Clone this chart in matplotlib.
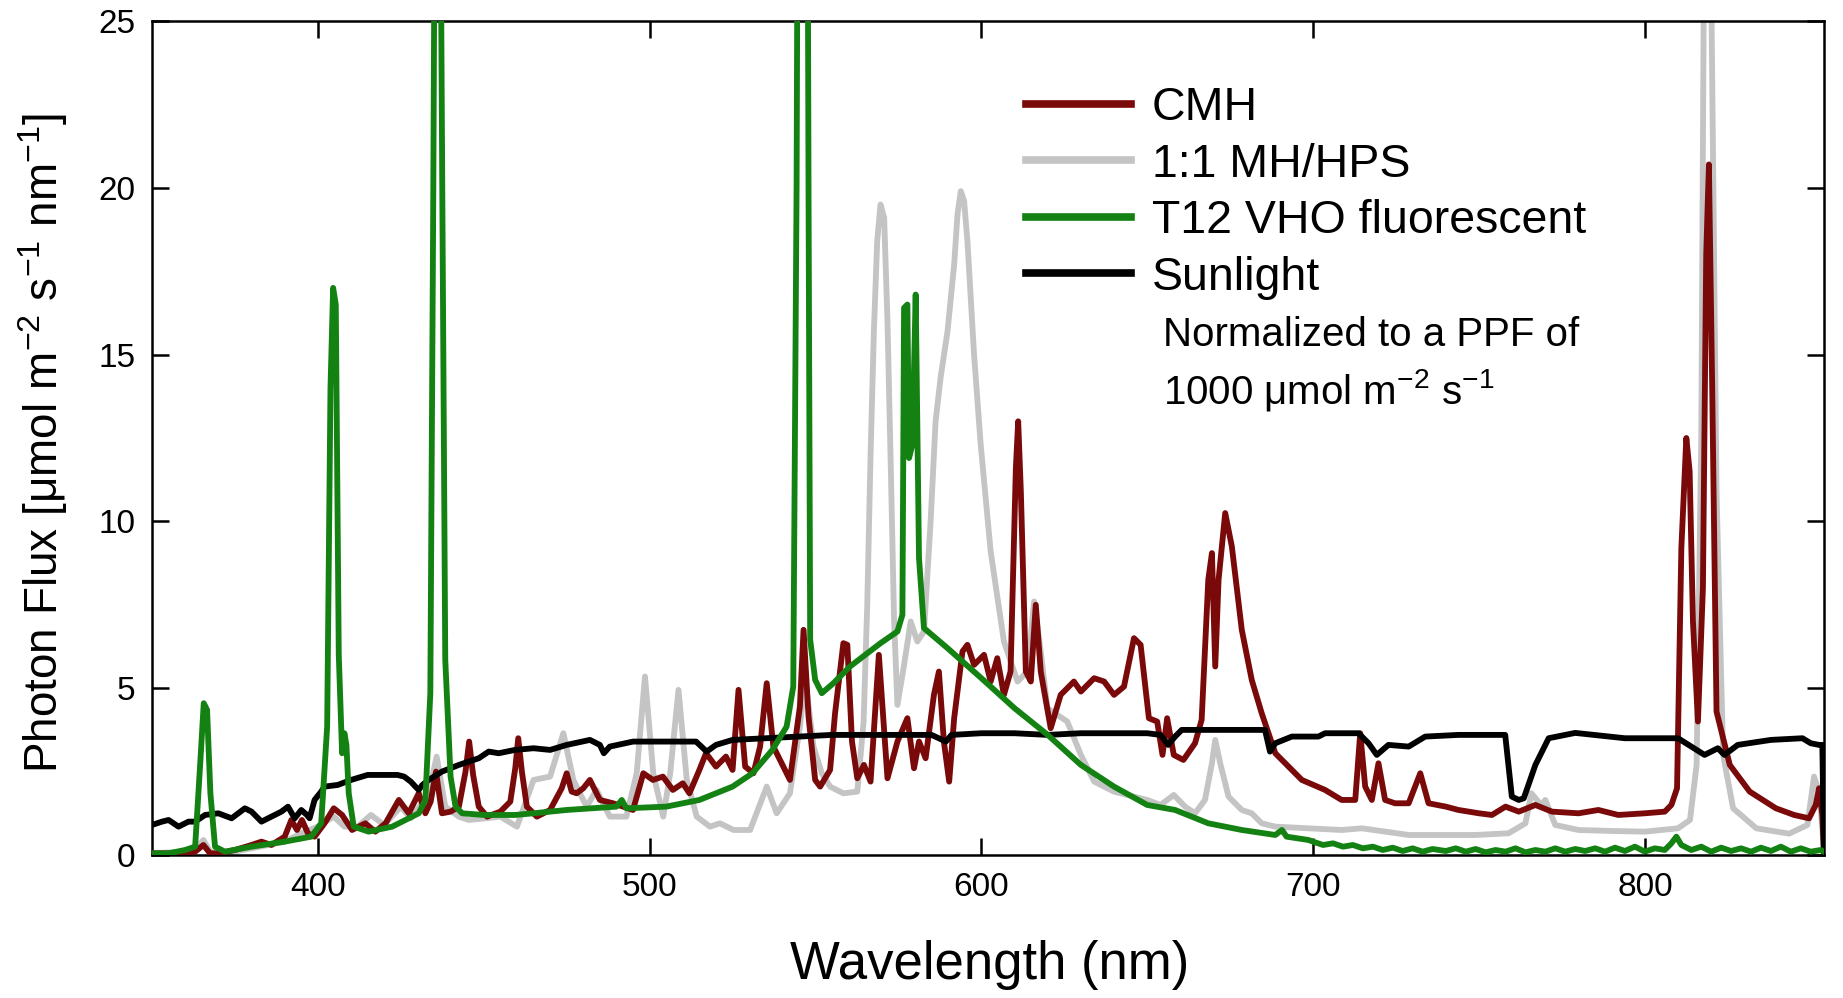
import matplotlib
matplotlib.use("Agg")
import matplotlib.pyplot as plt
from matplotlib import font_manager
from matplotlib.lines import Line2D

names = {f.name for f in font_manager.fontManager.ttflist}
BASE = 'Liberation Sans' if 'Liberation Sans' in names else 'DejaVu Sans'
plt.rcParams['font.family'] = [BASE, 'DejaVu Sans']
plt.rcParams['mathtext.fontset'] = 'custom'
plt.rcParams['mathtext.rm'] = BASE
plt.rcParams['mathtext.it'] = BASE + ':italic'
plt.rcParams['mathtext.default'] = 'regular'

# ---------------- data ----------------
sun_nm = [350, 353, 355, 358, 361, 363, 366, 370, 374, 378, 380, 383, 385, 387, 389, 391, 393,
          395, 396.7, 397.5, 399, 401, 402, 406, 410, 415, 420, 424, 426, 428, 429.4, 430.4,
          431.5, 433.4, 437.4, 442.5, 448.5, 451.5, 454.5, 459.4, 465, 470, 475, 482, 485,
          486.2, 488, 495, 505, 514, 517.2, 520, 525, 535, 545, 555, 565, 575, 585, 589.3,
          591, 600, 610, 620, 630, 640, 650, 654, 656.3, 658.4, 660.4, 670, 680, 685.5, 687,
          688.6, 693.6, 701.6, 703.6, 713.7, 716.7, 719.2, 722.7, 728.8, 733.8, 743.8, 757.9,
          759.9, 762, 763.5, 767, 771, 779, 794, 810, 814, 818, 822, 824, 828, 838, 847.5,
          850, 852.5, 853.5, 854]
sun_flux = [0.9, 1.0, 1.05, 0.85, 1.0, 1.0, 1.2, 1.25, 1.1, 1.4, 1.3, 1.0, 1.1, 1.2, 1.3, 1.45, 1.1,
            1.35, 1.2, 1.1, 1.65, 1.9, 2.05, 2.1, 2.25, 2.4, 2.4, 2.4, 2.35, 2.2, 2.05, 1.95,
            2.1, 2.25, 2.5, 2.7, 2.9, 3.1, 3.05, 3.15, 3.2, 3.15, 3.3, 3.45, 3.3,
            3.05, 3.25, 3.4, 3.4, 3.4, 3.1, 3.3, 3.45, 3.5, 3.55, 3.6, 3.6, 3.6, 3.6, 3.4,
            3.6, 3.65, 3.65, 3.6, 3.65, 3.65, 3.65, 3.6, 3.3, 3.55, 3.75, 3.75, 3.75, 3.75, 3.1,
            3.35, 3.55, 3.55, 3.65, 3.65, 3.35, 3.0, 3.3, 3.25, 3.55, 3.6, 3.6,
            1.75, 1.65, 1.7, 2.7, 3.5, 3.66, 3.5, 3.5, 3.25, 3.0, 3.2, 3.0, 3.3, 3.45, 3.5,
            3.35, 3.3, 3.3, 0.0]

cmh_nm = [350, 355, 360, 363, 365.5, 367.5, 370, 375, 380, 383, 386, 390, 392, 393.7, 395.2, 397,
          399, 402, 404.8, 407.3, 410.3, 414.3, 417.3, 420.4, 424.4, 427.4, 430.4, 432.4, 434,
          435.6, 437.4, 440, 442.5, 444.5, 445.6, 446.8, 448.5, 451, 455, 458, 459.5, 460.4,
          461.5, 463, 466, 470, 473.5, 475, 476.5, 478, 480, 482, 485, 489, 495, 498.1, 501,
          504, 507, 510, 512, 515, 517, 520, 523, 525, 526.8, 528.8, 531.3, 533.3, 535.3,
          537.3, 540.3, 542.3, 545.3, 546.4, 547.9, 549.9, 551.4, 554.4, 555.9, 558.4, 559.6,
          561, 562.6, 564.6, 566.6, 569.1, 571.7, 574.7, 577.7, 579.7, 581.2, 583.2, 585.7,
          587.2, 588.7, 590.3, 591.8, 594.3, 595.8, 597.8, 600.8, 602.8, 604.8, 606.8, 608.8,
          610.4, 611.1, 611.9, 613.4, 614.9, 616.4, 617.9, 620.9, 623.9, 627.9, 630, 634, 637,
          640, 643, 646, 648, 650.5, 653, 654.6, 656, 658, 660.9, 664.4, 666.4, 668.4, 669.5,
          670.5, 671.5, 673.5, 675.5, 678.5, 681.5, 684.5, 688.6, 691.6, 696.6, 703.6, 708.6,
          712.7, 714.2, 715.7, 717.7, 719.7, 721.7, 724.7, 728.8, 732.3, 734.8, 740, 743.8,
          750, 753.9, 758, 762, 767, 772, 780, 786, 792, 800, 806, 808, 809.7, 811, 812.5,
          813.5, 814.5, 816, 817.5, 818.5, 819.3, 820.3, 821.6, 825.6, 831.6, 839.5, 845,
          849.5, 851.5, 852.5, 853.5, 854]
cmh_flux = [0.05, 0.05, 0.05, 0.1, 0.3, 0.05, 0.05, 0.15, 0.3, 0.4, 0.3, 0.55, 1.05, 0.75, 1.05, 0.65,
            0.55, 0.95, 1.4, 1.2, 0.75, 0.95, 0.7, 0.95, 1.65, 1.25, 1.85, 1.25, 1.6,
            2.5, 1.25, 1.3, 1.45, 2.5, 3.4, 2.4, 1.45, 1.15, 1.3, 1.6, 2.6, 3.5,
            2.5, 1.45, 1.15, 1.35, 2.0, 2.45, 1.9, 1.85, 2.0, 2.25, 1.65, 1.55, 1.35, 2.45, 2.25,
            2.35, 1.95, 2.15, 1.85, 2.55, 3.05, 2.65, 2.95, 2.55, 4.95, 2.65, 2.45, 3.25, 5.15,
            3.25, 2.65, 2.25, 4.45, 6.75, 4.15, 2.25, 2.05, 2.55, 4.25, 6.35, 6.3,
            3.4, 2.3, 2.7, 2.2, 6.0, 2.3, 3.4, 4.1, 2.6, 3.4, 2.9, 4.8,
            5.5, 3.4, 2.2, 4.1, 6.1, 6.3, 5.7, 6.0, 5.2, 5.9, 4.8, 5.5,
            11.6, 13.0, 10.9, 5.5, 5.2, 7.5, 5.5, 3.8, 4.8, 5.2, 4.9, 5.3, 5.2,
            4.8, 5.05, 6.5, 6.3, 4.1, 4.0, 3.0, 4.1, 3.0, 2.85, 3.35, 4.05, 8.25, 9.05,
            5.65, 8.25, 10.25, 9.25, 6.75, 5.25, 4.25, 3.05, 2.75, 2.25, 1.95, 1.65,
            1.65, 3.65, 2.05, 1.65, 2.75, 1.65, 1.55, 1.55, 2.45, 1.55, 1.45, 1.35,
            1.25, 1.2, 1.45, 1.3, 1.5, 1.3, 1.25, 1.35, 1.2, 1.25, 1.3, 1.5, 2.0, 9.2, 12.5,
            11.5, 7.0, 4.0, 8.0, 18.0, 20.7, 14.0, 4.3, 2.7, 1.9, 1.4, 1.2,
            1.1, 1.5, 2.0, 1.2, 0.0]

mh_hps_nm = [350, 360, 363, 365.5, 367.5, 372, 380, 385, 390, 395, 400, 404.8, 408, 412, 416, 420,
             425, 428, 431, 433.4, 435.8, 438.4, 442.5, 445.5, 450.5, 455, 460, 465, 470, 474,
             477, 481, 484, 488, 493, 496.1, 498.6, 501.1, 504.1, 506.2, 508.7, 511.2, 514.2,
             518.2, 521.2, 525.3, 530.3, 535.3, 538.3, 542.3, 545.3, 546.9, 549.4, 551.9, 554.4,
             558.4, 562.6, 564.5, 565.6, 566.6, 567.6, 568.6, 569.6, 570.7, 571.7, 572.7, 573.7,
             574.7, 576.7, 578.7, 580.7, 582.7, 584.7, 586.2, 587.7, 589.8, 591.8, 592.8, 593.8,
             594.8, 595.8, 597.8, 599.8, 602.8, 606.8, 610.9, 613.9, 615.9, 617.9, 619.9, 622.9,
             625.9, 630, 634, 640, 650, 654, 658, 661.4, 664.4, 667.4, 669.5, 670.5, 672, 674.5,
             678.5, 681.5, 684.5, 688.6, 698.6, 708.6, 714.7, 728.8, 748.9, 758.9, 764, 765.8,
             768.7, 770, 773, 780, 790, 800, 810, 813.6, 815.6, 817, 818, 819.6, 821.6, 823.6,
             826.6, 833.6, 843.5, 849, 851, 852.5, 853.5, 854]
mh_hps_flux = [0.05, 0.1, 0.15, 0.45, 0.1, 0.05, 0.2, 0.3, 0.4, 0.65, 0.85, 1.15, 0.85, 0.85, 1.2, 0.9,
               1.45, 1.1, 1.5, 1.85, 2.95, 1.45, 1.15, 1.05, 1.1, 1.15, 0.85, 2.25, 2.35, 3.65,
               2.25, 1.45, 1.95, 1.15, 1.15, 2.45, 5.35, 2.45, 1.15, 2.45, 4.95, 2.25, 1.15,
               0.85, 0.95, 0.75, 0.75, 2.05, 1.25, 1.85, 3.85, 5.3, 3.25, 2.45, 2.05,
               1.85, 1.9, 4.0, 7.5, 12.0, 15.7, 18.4, 19.5, 19.1, 16.0, 11.6, 7.0,
               4.5, 5.7, 7.0, 6.4, 6.7, 10.0, 13.0, 14.3, 15.7, 17.7, 19.2, 19.9,
               19.6, 18.4, 15.0, 12.3, 9.1, 6.4, 5.2, 5.5, 7.6, 6.1, 4.4, 4.2,
               4.0, 3.0, 2.2, 1.9, 1.65, 1.5, 1.8, 1.45, 1.25, 1.65, 2.75, 3.45, 2.75, 1.75,
               1.35, 1.25, 0.95, 0.85, 0.8, 0.75, 0.8, 0.6, 0.6, 0.65, 0.95, 1.85,
               1.5, 1.65, 0.9, 0.75, 0.72, 0.7, 0.8, 1.05, 2.7, 12.5, 30.0, 30.0, 10.9, 3.0,
               1.4, 0.8, 0.64, 0.9, 2.35, 1.9, 0.8, 0.0]

t12_nm = [350, 355, 360, 363, 364.6, 365.6, 366.6, 367.6, 369, 372, 380, 390, 398, 401, 402.8,
          403.8, 404.6, 405.4, 406.3, 407.3, 408, 408.6, 409.3, 410.8, 415.3, 422.4, 430.4, 432.4,
          433.9, 434.8, 435.5, 436.6, 437.5, 438.4, 440, 441.5, 443.5, 450, 459.4, 465, 475, 490,
          491.6, 493, 505, 515, 525, 531, 537, 541.3, 543.3, 544.3, 545, 547.3, 547.9, 548.4,
          549.9, 551.9, 555.4, 560.4, 569.6, 574.7, 576.2, 576.7, 577.7, 578.2, 579.2, 580.2,
          581.2, 582.7, 589.8, 600, 610, 620, 630, 640, 650, 658.4, 668.4, 678.5, 688.6, 690.6,
          692, 698.6, 700, 703, 706, 709, 712, 715, 718, 721, 724, 727, 730, 733, 736, 740, 743,
          746, 749, 752, 755, 758, 761, 764, 767, 770, 773, 776, 779, 782, 785, 788, 791, 794,
          797, 800, 803, 806, 808, 809.5, 811, 814, 817, 820, 823, 826, 829, 832, 835, 838, 841,
          844, 847, 850, 853, 854]
t12_flux = [0.05, 0.05, 0.15, 0.25, 2.85, 4.55, 4.35, 1.85, 0.25, 0.1, 0.25, 0.4, 0.55, 0.95, 3.85,
            14.0, 17.0, 16.5, 6.0, 3.05, 3.65, 3.3, 1.85, 0.85, 0.7, 0.85, 1.25, 1.65,
            4.85, 20.0, 35.0, 35.0, 20.0, 5.85, 2.35, 1.45, 1.25, 1.2, 1.2, 1.25, 1.35, 1.45,
            1.65, 1.4, 1.45, 1.65, 2.05, 2.45, 3.15, 3.85, 5.05, 20.0, 40.0, 40.0, 20.0, 6.45,
            5.25, 4.85, 5.15, 5.65, 6.35, 6.7, 7.2, 16.4, 16.5, 11.9, 12.3, 16.8,
            8.9, 6.8, 6.2, 5.3, 4.4, 3.6, 2.7, 2.05, 1.5, 1.35, 0.95, 0.75, 0.6, 0.75,
            0.55, 0.45, 0.4, 0.3, 0.35, 0.25, 0.3, 0.2, 0.25, 0.15, 0.22, 0.12, 0.2, 0.1, 0.18, 0.12, 0.2,
            0.1, 0.18, 0.08, 0.15, 0.1, 0.2, 0.08, 0.15, 0.1, 0.2, 0.1, 0.18, 0.12, 0.2, 0.1, 0.22, 0.12,
            0.25, 0.1, 0.2, 0.15, 0.35, 0.55, 0.3, 0.15, 0.25, 0.1, 0.22, 0.12, 0.2, 0.1, 0.22, 0.12, 0.25,
            0.1, 0.2, 0.1, 0.15, 0.1]

series_labels = ['CMH', '1:1 MH/HPS', 'T12 VHO fluorescent', 'Sunlight']
series_colors = ['#7a0a0a', '#c4c4c4', '#138213', '#000000']
x_ticks = [400, 500, 600, 700, 800]
y_ticks = [0, 5, 10, 15, 20, 25]

# ---------------- figure ----------------
W, H = 1843, 998
fig = plt.figure(figsize=(W / 100, H / 100), dpi=100)
L, R, T, B = 152, 1824, 21, 855
ax = fig.add_axes([L / W, 1 - B / H, (R - L) / W, (B - T) / H])

lw = 4.2
ax.plot(mh_hps_nm, mh_hps_flux, color=series_colors[1], lw=lw, zorder=2, solid_joinstyle='round')
ax.plot(cmh_nm, cmh_flux, color=series_colors[0], lw=lw, zorder=3, solid_joinstyle='round')
ax.plot(sun_nm, sun_flux, color=series_colors[3], lw=lw, zorder=4, solid_joinstyle='round')
ax.plot(t12_nm, t12_flux, color=series_colors[2], lw=lw, zorder=5, solid_joinstyle='round')

ax.set_xlim(350, 854)
ax.set_ylim(0, 25)
ax.set_xticks(x_ticks)
ax.set_yticks(y_ticks)
ax.tick_params(direction='in', length=12, width=1.8, top=True, right=True,
               labelsize=24, pad=12, colors='black')
for sp in ax.spines.values():
    sp.set_linewidth(1.8)

ax.set_xlabel('Wavelength (nm)', fontsize=38)
ax.xaxis.set_label_coords((990 - L) / (R - L), -(940 - B) / (B - T))
ax.set_ylabel(r'Photon Flux [$\mu$mol m$^{-2}$ s$^{-1}$ nm$^{-1}$]', fontsize=33)
ax.yaxis.set_label_coords(-(L - 70) / (R - L), (B - 443) / (B - T))

handles = [Line2D([], [], color=c, lw=5.5) for c in series_colors]
ax.legend(handles, series_labels, loc='upper left',
          bbox_to_anchor=((1026 - L) / (R - L), (B - 86) / (B - T)),
          frameon=False, fontsize=33.5, handlelength=2.25, handletextpad=0.45,
          labelspacing=0.27, borderaxespad=0, borderpad=0)

ax.text((1163 - L) / (R - L), (B - 335) / (B - T), 'Normalized to a PPF of',
        transform=ax.transAxes, fontsize=29, va='center', ha='left')
ax.text((1163 - L) / (R - L), (B - 390) / (B - T), r'1000 $\mu$mol m$^{-2}$ s$^{-1}$',
        transform=ax.transAxes, fontsize=29, va='center', ha='left')

fig.savefig('out.png', dpi=100)
